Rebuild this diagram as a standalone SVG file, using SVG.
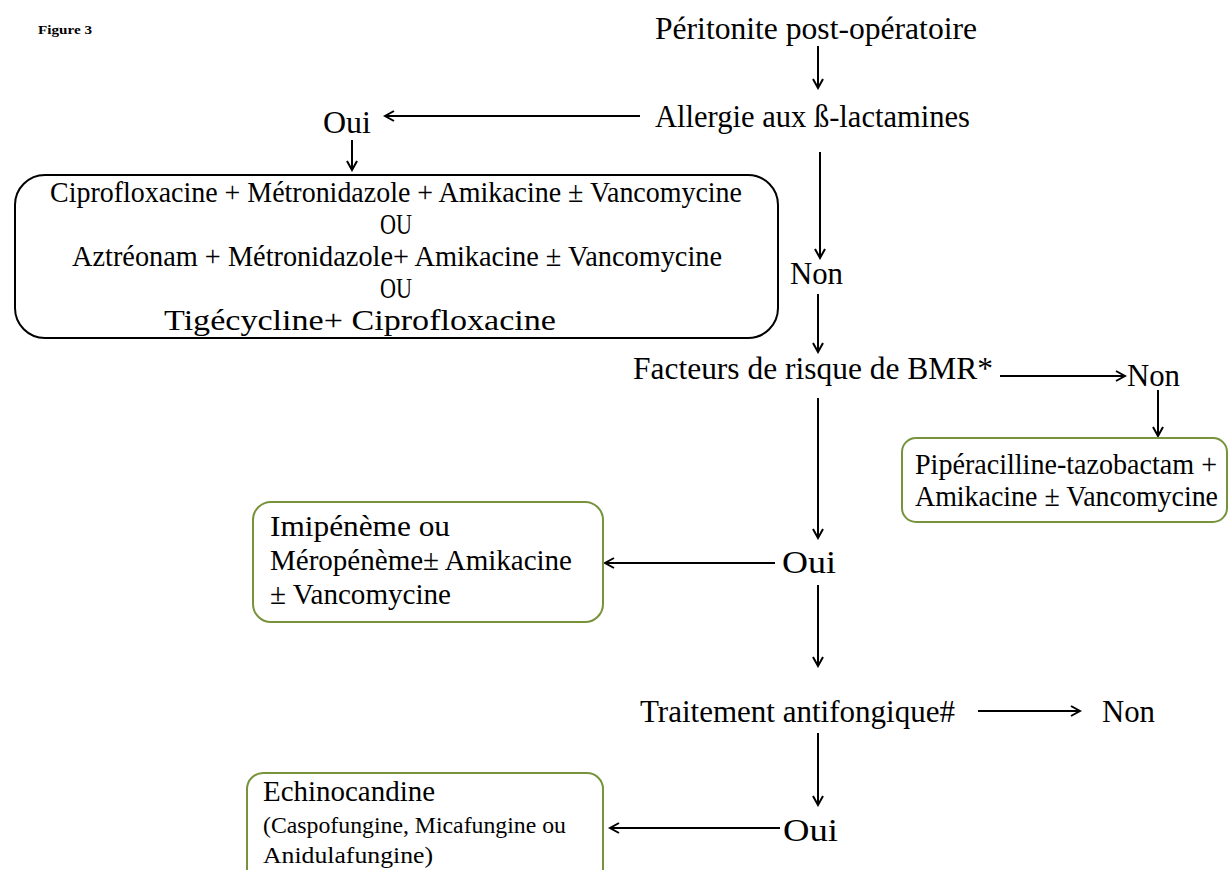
<svg xmlns="http://www.w3.org/2000/svg" width="1229" height="870" viewBox="0 0 1229 870">
<defs>
<marker id="ah" markerWidth="12" markerHeight="12" refX="10" refY="6" orient="auto" markerUnits="userSpaceOnUse">
<path d="M1,1 L10,6 L1,11" fill="none" stroke="#000" stroke-width="2"/>
</marker>
<style>
text{font-family:"Liberation Serif","Times New Roman",serif;fill:#000;}
.t{font-size:31px;}
.b{font-size:29px;}
.s{font-size:23px;}
.c line{stroke:#000;stroke-width:2;marker-end:url(#ah);}
.g{fill:#fff;stroke:#77933c;stroke-width:2;}
.k{fill:#fff;stroke:#000;stroke-width:2;}
</style>
</defs>
<rect width="1229" height="870" fill="#fff"/>
<text x="38" y="34" font-size="13" font-weight="bold" textLength="54" lengthAdjust="spacingAndGlyphs">Figure 3</text>

<g id="connectors" class="c">
<line x1="818" y1="46" x2="818" y2="88"/>
<line x1="640" y1="116" x2="385" y2="116"/>
<line x1="352" y1="140" x2="352" y2="170"/>
<line x1="820" y1="152" x2="820" y2="258"/>
<line x1="818" y1="294" x2="818" y2="352"/>
<line x1="1000" y1="376" x2="1125" y2="376"/>
<line x1="1158" y1="390" x2="1158" y2="436"/>
<line x1="818" y1="398" x2="818" y2="538"/>
<line x1="775" y1="563" x2="605" y2="563"/>
<line x1="818" y1="585" x2="818" y2="666"/>
<line x1="978" y1="711" x2="1080" y2="711"/>
<line x1="818" y1="733" x2="818" y2="805"/>
<line x1="780" y1="828" x2="610" y2="828"/>
</g>

<g id="peritonite"><text class="t" x="655" y="39" textLength="322" lengthAdjust="spacingAndGlyphs">Péritonite post-opératoire</text></g>
<g id="allergie"><text class="t" x="655" y="127" textLength="315" lengthAdjust="spacingAndGlyphs">Allergie aux ß-lactamines</text></g>
<g id="oui1"><text class="t" x="323" y="133" textLength="48" lengthAdjust="spacingAndGlyphs">Oui</text></g>

<g id="box-allergie">
<rect class="k" x="15" y="175" width="763" height="163" rx="30"/>
<text class="b" x="50" y="202" textLength="692" lengthAdjust="spacingAndGlyphs">Ciprofloxacine + Métronidazole + Amikacine ± Vancomycine</text>
<text class="b" x="380" y="234" textLength="32" lengthAdjust="spacingAndGlyphs">OU</text>
<text class="b" x="72" y="266" textLength="650" lengthAdjust="spacingAndGlyphs">Aztréonam + Métronidazole+ Amikacine ± Vancomycine</text>
<text class="b" x="380" y="298" textLength="32" lengthAdjust="spacingAndGlyphs">OU</text>
<text class="b" x="164" y="330" textLength="392" lengthAdjust="spacingAndGlyphs">Tigécycline+ Ciprofloxacine</text>
</g>

<g id="non1"><text class="t" x="790" y="284" textLength="53" lengthAdjust="spacingAndGlyphs">Non</text></g>
<g id="facteurs"><text class="t" x="633" y="379" textLength="360" lengthAdjust="spacingAndGlyphs">Facteurs de risque de BMR*</text></g>
<g id="non2"><text class="t" x="1127" y="386" textLength="53" lengthAdjust="spacingAndGlyphs">Non</text></g>

<g id="box-piperacilline">
<rect class="g" x="902" y="438" width="325" height="84" rx="14"/>
<text class="b" x="915" y="474" textLength="302" lengthAdjust="spacingAndGlyphs">Pipéracilline-tazobactam +</text>
<text class="b" x="915" y="506" textLength="303" lengthAdjust="spacingAndGlyphs">Amikacine ± Vancomycine</text>
</g>

<g id="box-imipeneme">
<rect class="g" x="253" y="502" width="350" height="120" rx="18"/>
<text class="b" x="270" y="536" textLength="180" lengthAdjust="spacingAndGlyphs">Imipénème ou</text>
<text class="b" x="270" y="570" textLength="302" lengthAdjust="spacingAndGlyphs">Méropénème± Amikacine</text>
<text class="b" x="270" y="604" textLength="181" lengthAdjust="spacingAndGlyphs">± Vancomycine</text>
</g>

<g id="oui2"><text class="t" x="782" y="573" textLength="54" lengthAdjust="spacingAndGlyphs">Oui</text></g>
<g id="antifongique"><text class="t" x="640" y="722" textLength="315" lengthAdjust="spacingAndGlyphs">Traitement antifongique#</text></g>
<g id="non3"><text class="t" x="1102" y="722" textLength="53" lengthAdjust="spacingAndGlyphs">Non</text></g>
<g id="oui3"><text class="t" x="783" y="841" textLength="55" lengthAdjust="spacingAndGlyphs">Oui</text></g>

<g id="box-echinocandine">
<rect class="g" x="247" y="773" width="356" height="120" rx="16"/>
<text class="b" x="263" y="801" textLength="172" lengthAdjust="spacingAndGlyphs">Echinocandine</text>
<text class="s" x="263" y="833" textLength="303" lengthAdjust="spacingAndGlyphs">(Caspofungine, Micafungine ou</text>
<text class="s" x="263" y="863" textLength="170" lengthAdjust="spacingAndGlyphs">Anidulafungine)</text>
</g>
</svg>
